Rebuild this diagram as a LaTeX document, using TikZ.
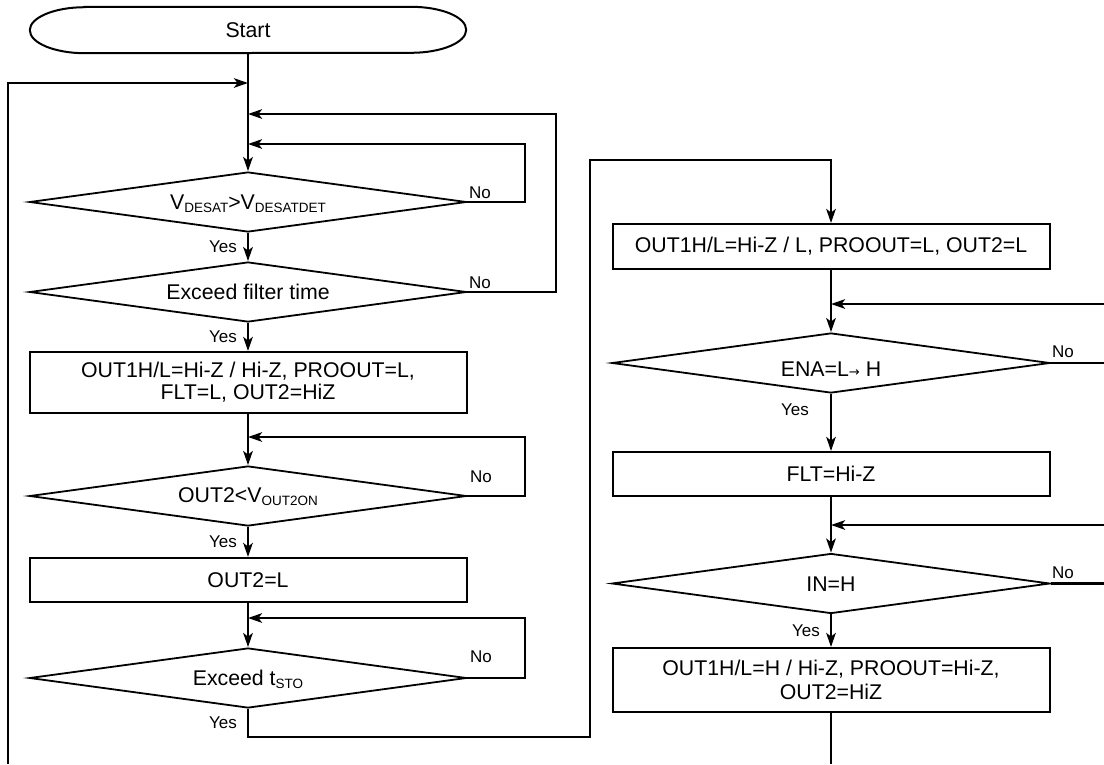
\documentclass[tikz,border=0pt]{standalone}
\usepackage{fontspec}
\setmainfont{Liberation Sans}
\newfontfamily\arrowfont{DejaVu Sans}
\usetikzlibrary{shapes.geometric,arrows.meta}
\newcommand{\sbx}[1]{\raisebox{-3pt}{\fontsize{13.5}{13.5}\selectfont #1}}
\begin{document}
\begin{tikzpicture}[x=1pt,y=-1pt,
  txt/.style={font=\fontsize{21.3}{22}\selectfont, inner sep=0pt},
  lbl/.style={font=\fontsize{17}{17}\selectfont, inner sep=0pt},
  proc/.style={draw, line width=2pt, minimum width=437pt, inner sep=0pt, align=center, font=\fontsize{21.3}{22}\selectfont},
  dec/.style={draw, diamond, line width=1.8pt, minimum width=437pt, minimum height=60pt, inner sep=0pt},
  arr/.style={line width=2.4pt, -{Stealth[length=14pt,width=9.5pt,inset=3.5pt]}},
  ln/.style={line width=2.4pt}]
\useasboundingbox (0,0) rectangle (1104,764);

% ---------- left column ----------
\node[txt, minimum width=436pt, minimum height=46pt] (start) at (248,30) {Start};
\draw[line width=2pt] ([xshift=55pt]start.north west) -- ([xshift=-55pt]start.north east)
  arc[start angle=90, end angle=-90, x radius=55pt, y radius=23pt]
  -- ([xshift=55pt]start.south west)
  arc[start angle=270, end angle=90, x radius=55pt, y radius=23pt] -- cycle;

\node[dec] (d1) at (248,202) {};
\node[txt] (t1) at (248,204) {V\sbx{DESAT}>V\sbx{DESATDET}};
\node[dec] (d2) at (248,292) {};
\node[txt] (t2) at (248,292) {Exceed filter time};
\node[proc, minimum height=61pt] (b1) at (248,382.5) {OUT1H/L=Hi-Z / Hi-Z, PROOUT=L,\\FLT=L, OUT2=HiZ};
\node[dec] (d3) at (248,496) {};
\node[txt] (t3) at (248,497) {OUT2<V\sbx{OUT2ON}};
\node[proc, minimum height=44pt] (b2) at (248,580) {OUT2=L};
\node[dec] (d4) at (248,678) {};
\node[txt] (t4) at (248,679) {Exceed t\sbx{STO}};

\node[lbl] (no1) at (480,193) {No};
\node[lbl] (no2) at (480,283) {No};
\node[lbl] (no3) at (481,477) {No};
\node[lbl] (no4) at (481,657) {No};

\coordinate (lb) at (8,764);
\coordinate (m0) at (248,83);
\coordinate (m1) at (248,114);
\coordinate (m2) at (248,144);
\coordinate (r1) at (525,144);
\coordinate (r2) at (556,114);
\coordinate (m3) at (248,437);
\coordinate (r3) at (525,437);
\coordinate (m4) at (248,618);
\coordinate (r4) at (525,618);
\coordinate (c1) at (248,737);
\coordinate (c3) at (590,160);

\draw[arr] (start.south) -- (d1.north);
\draw[arr] (lb) |- (m0);
\draw[arr] (d1.east) -| (r1) -- (m2);
\draw[arr] (d2.east) -| (r2) -- (m1);
\draw[arr] (d1.south) -- node[lbl, left=10pt] {Yes} (d2.north);
\draw[arr] (d2.south) -- node[lbl, left=10pt] {Yes} (b1.north);
\draw[arr] (b1.south) -- (d3.north);
\draw[arr] (d3.east) -| (r3) -- (m3);
\draw[arr] (d3.south) -- node[lbl, left=10pt] {Yes} (b2.north);
\draw[arr] (b2.south) -- (d4.north);
\draw[arr] (d4.east) -| (r4) -- (m4);

% ---------- right column ----------
\node[proc, minimum height=45pt] (rb1) at (831,246.5) {OUT1H/L=Hi-Z / L, PROOUT=L, OUT2=L};
\node[dec, minimum width=438pt] (d5) at (831,363) {};
\node[txt] (t5) at (831,369) {ENA=L{\arrowfont\fontsize{13}{13}\selectfont →} H};
\node[proc, minimum height=44pt] (rb2) at (831,474) {FLT=Hi-Z};
\node[dec, minimum width=438pt] (d6) at (831,583.5) {};
\node[txt] (t6) at (831,584) {IN=H};
\node[proc, minimum height=64pt, font=\fontsize{21.3}{24}\selectfont] (rb3) at (831,680) {OUT1H/L=H / Hi-Z, PROOUT=Hi-Z,\\OUT2=HiZ};

\node[lbl] (no5) at (1063,352) {No};
\node[lbl] (no6) at (1063,573) {No};

\coordinate (e1) at (1104,304);
\coordinate (n1) at (831,304);
\coordinate (e2) at (1104,363);
\coordinate (e3) at (1104,525);
\coordinate (n3) at (831,525);
\coordinate (e4) at (1104,583.5);
\coordinate (rbot) at (831,764);

\draw[arr] (d4.south) -- node[lbl, left=10pt] {Yes} (c1) -| (c3) -| (rb1.north);
\draw[arr] (rb1.south) -- (d5.north);
\draw[arr] (e1) -- (n1);
\draw[ln] (d5.east) -- (e2);
\draw[arr] (d5.south) -- node[lbl, left=21pt, pos=0.27] {Yes} (rb2.north);
\draw[arr] (rb2.south) -- (d6.north);
\draw[arr] (e3) -- (n3);
\draw[ln] (d6.east) -- (e4);
\draw[arr] (d6.south) -- node[lbl, left=10pt] {Yes} (rb3.north);
\draw[ln] (rb3.south) -- (rbot);
\end{tikzpicture}
\end{document}
